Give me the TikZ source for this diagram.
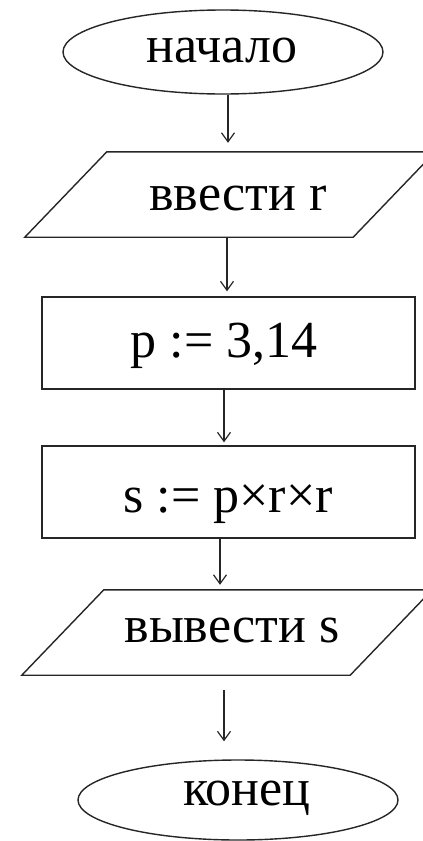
\documentclass[tikz,border=0pt]{standalone}
\usepackage{fontspec}
\setmainfont{Liberation Serif}
\usetikzlibrary{shapes.geometric,arrows.meta}
\definecolor{ln}{HTML}{262626}
\tikzset{
  shapeline/.style={draw=ln, line width=1.4pt},
  term/.style={ellipse, shapeline, inner sep=0pt},
  procbox/.style={rectangle, shapeline, inner sep=0pt, minimum width=373pt, minimum height=92pt},
  iobox/.style={rectangle, draw=none, inner sep=0pt, minimum width=328pt, minimum height=85pt,
    append after command={
      \pgfextra{\draw[shapeline, line join=miter]
        ([xshift=41pt]\tikzlastnode.north west) -- ([xshift=41pt]\tikzlastnode.north east) --
        ([xshift=-41pt]\tikzlastnode.south east) -- ([xshift=-41pt]\tikzlastnode.south west) -- cycle;}}},
  lbl/.style={anchor=base, inner sep=0pt, font=\fontsize{52}{52}\selectfont, text=black},
  arr/.style={draw=ln, line width=1.2pt, -{Straight Barb[length=9pt,width=13pt,line width=1.2pt]}}
}
\begin{document}
\begin{tikzpicture}[x=1pt,y=-1pt]
\useasboundingbox (0,0) rectangle (423,841);
\fill[white] (0,0) rectangle (423,841);
% shapes
\node[term, minimum width=320pt, minimum height=84pt] (start) at (223,52) {};
\node[iobox] (in) at (230,194.5) {};
\node[procbox] (p1) at (228.5,343) {};
\node[procbox] (p2) at (228.5,492) {};
\node[iobox] (out) at (227,632.5) {};
\node[term, minimum width=320pt, minimum height=80pt] (stop) at (238,800) {};
% texts
\node[lbl] (tstart) at (222,62) {начало};
\node[lbl] (tin) at (238,210) {ввести r};
\node[lbl] (tp1) at (224,357) {p := 3,14};
\node[lbl] (tp2) at (228,512) {s := p×r×r};
\node[lbl] (tout) at (232,642) {вывести s};
\node[lbl] (tstop) at (247,805) {конец};
% connectors
\draw[arr] ([xshift=5pt]start.south) -- ([xshift=5pt]start.south |- in.north) [shorten >=9pt];
\draw[arr] ([xshift=-3pt]in.south) -- ([xshift=-3pt]in.south |- p1.north) [shorten >=5pt];
\draw[arr] ([xshift=-4.5pt]p1.south) -- ([xshift=-4.5pt]p1.south |- p2.north) [shorten >=3pt];
\draw[arr] ([xshift=-8.5pt]p2.south) -- ([xshift=-8.5pt]p2.south |- out.north) [shorten >=5pt];
\draw[arr] ([xshift=-3pt,yshift=-15pt]out.south) -- ([xshift=-3pt]out.south |- stop.north) [shorten >=18pt];
\end{tikzpicture}
\end{document}
